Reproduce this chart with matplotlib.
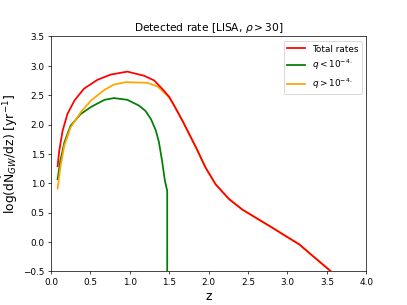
import numpy as np
import matplotlib
matplotlib.use("Agg")
import matplotlib.pyplot as plt

# total rates
z_tot = [0.085, 0.106, 0.148, 0.21, 0.30, 0.42, 0.59, 0.76, 0.97, 1.18, 1.31, 1.43,
         1.50, 1.56, 1.67, 1.84, 1.96, 2.09, 2.26, 2.43, 2.64, 2.80, 2.98, 3.15, 3.28,
         3.42, 3.57]
r_tot = [1.29, 1.55, 1.89, 2.18, 2.41, 2.61, 2.76, 2.85, 2.90, 2.83, 2.75, 2.58,
         2.47, 2.33, 2.06, 1.61, 1.27, 0.98, 0.73, 0.55, 0.38, 0.25, 0.10, -0.04, -0.19,
         -0.35, -0.52]

# q < 1e-4
z_low = [0.085, 0.12, 0.17, 0.25, 0.38, 0.51, 0.68, 0.80, 0.97, 1.12, 1.20, 1.27,
         1.33, 1.37, 1.41, 1.445, 1.475, 1.475]
r_low = [1.07, 1.38, 1.69, 1.98, 2.18, 2.30, 2.42, 2.45, 2.42, 2.32, 2.23, 2.09,
         1.90, 1.70, 1.38, 1.05, 0.87, -3.0]

# q > 1e-4
z_high = [0.085, 0.12, 0.17, 0.25, 0.38, 0.51, 0.68, 0.80, 0.95, 1.22, 1.35, 1.43,
          1.50, 1.56, 1.67, 1.84, 1.96, 2.09, 2.26, 2.43, 2.64, 2.80, 2.98, 3.15, 3.28,
          3.42, 3.57]
r_high = [0.91, 1.27, 1.64, 1.95, 2.21, 2.41, 2.59, 2.68, 2.72, 2.71, 2.65, 2.55,
          2.46, 2.33, 2.06, 1.61, 1.27, 0.98, 0.73, 0.55, 0.38, 0.25, 0.10, -0.04, -0.19,
          -0.35, -0.52]

fig, ax = plt.subplots(figsize=(6.4, 4.8), dpi=63.6)

ax.plot(z_tot, r_tot, color='red', label='Total rates', lw=2, zorder=3)
ax.plot(z_low, r_low, color='green', label=r'$q < 10^{-4.}$', lw=2)
ax.plot(z_high, r_high, color='orange', label=r'$q > 10^{-4.}$', lw=2, zorder=2)

ax.set_xlim(0, 4)
ax.set_ylim(-0.5, 3.5)
ax.set_title(r'Detected rate [LISA, $\rho > 30$]')
ax.set_xlabel('z', fontsize=14)
ax.set_ylabel(r'log(d$\dot{\rm N}_{GW}$/dz) [yr$^{-1}$]', fontsize=14)
ax.legend(loc='upper right')

fig.savefig('out.png', dpi=63.6)
